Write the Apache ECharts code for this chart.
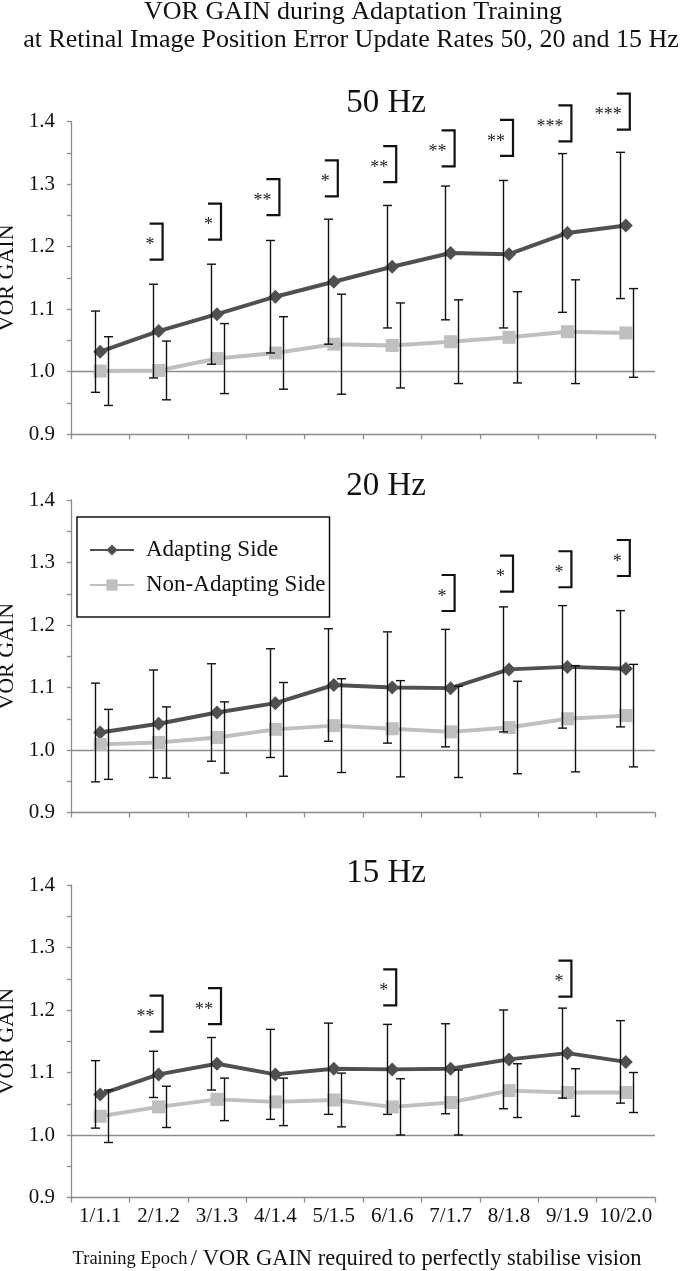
<!DOCTYPE html>
<html><head><meta charset="utf-8">
<script src="https://cdn.jsdelivr.net/npm/echarts@6/dist/echarts.min.js"></script>
<style>html,body{margin:0;padding:0;background:#fff}#c{width:685px;height:1271px}</style>
</head><body><div id="c"></div>
<script>
// ---------- data ----------
const categories = ['1/1.1','2/1.2','3/1.3','4/1.4','5/1.5','6/1.6','7/1.7','8/1.8','9/1.9','10/2.0'];
const seriesNames = ['Adapting Side','Non-Adapting Side'];
const panelTitles = ['50 Hz','20 Hz','15 Hz'];
const mainTitle = ['VOR GAIN during Adaptation Training','at Retinal Image Position Error Update Rates 50, 20 and 15 Hz'];
const yName = 'VOR GAIN';
const xNameSmall = 'Training Epoch';
const xNameLarge = '/ VOR GAIN required to perfectly stabilise vision';

// 50 Hz
const adapt50 = [1.032, 1.065, 1.092, 1.120, 1.144, 1.168, 1.190, 1.188, 1.222, 1.234];
const adapt50Err = [0.065, 0.075, 0.080, 0.090, 0.100, 0.098, 0.107, 0.118, 0.127, 0.117];
const nonAdapt50 = [1.001, 1.002, 1.021, 1.030, 1.044, 1.042, 1.048, 1.055, 1.064, 1.062];
const nonAdapt50Err = [0.055, 0.047, 0.056, 0.058, 0.080, 0.068, 0.067, 0.073, 0.083, 0.071];
const sig50 = ['', '*', '*', '**', '*', '**', '**', '**', '***', '***'];
const sigTop50 = [null, 1.237, 1.269, 1.308, 1.338, 1.361, 1.386, 1.403, 1.426, 1.445];

// 20 Hz
const adapt20 = [1.028, 1.042, 1.060, 1.075, 1.104, 1.100, 1.099, 1.129, 1.133, 1.130];
const adapt20Err = [0.079, 0.086, 0.078, 0.087, 0.090, 0.089, 0.094, 0.100, 0.098, 0.093];
const nonAdapt20 = [1.009, 1.012, 1.020, 1.033, 1.039, 1.034, 1.029, 1.036, 1.050, 1.055];
const nonAdapt20Err = [0.056, 0.057, 0.057, 0.075, 0.075, 0.077, 0.073, 0.074, 0.085, 0.082];
const sig20 = ['', '', '', '', '', '', '*', '*', '*', '*'];
const sigTop20 = [null, null, null, null, null, null, 1.280, 1.311, 1.318, 1.336];

// 15 Hz
const adapt15 = [1.065, 1.097, 1.114, 1.097, 1.106, 1.105, 1.106, 1.121, 1.131, 1.117];
const adapt15Err = [0.054, 0.037, 0.042, 0.072, 0.073, 0.072, 0.072, 0.079, 0.072, 0.066];
const nonAdapt15 = [1.030, 1.045, 1.057, 1.053, 1.056, 1.045, 1.052, 1.071, 1.068, 1.068];
const nonAdapt15Err = [0.042, 0.033, 0.034, 0.038, 0.043, 0.045, 0.052, 0.043, 0.038, 0.032];
const sig15 = ['', '**', '**', '', '', '*', '', '', '*', ''];
const sigTop15 = [null, 1.223, 1.235, null, null, 1.265, null, null, 1.279, null];

const yMin = 0.9, yMax = 1.4, yStep = 0.1, refLine = 1.0;

// ---------- styling / layout ----------
const FONT = 'Liberation Serif';
const DARK = '#505050', LIGHT = '#bfbfbf', AXIS = '#8c8c8c';
const gridTops = [121.7, 500, 885];
const gridH = 312.5;

const panels = [
  {a: adapt50, ae: adapt50Err, n: nonAdapt50, ne: nonAdapt50Err, s: sig50, st: sigTop50},
  {a: adapt20, ae: adapt20Err, n: nonAdapt20, ne: nonAdapt20Err, s: sig20, st: sigTop20},
  {a: adapt15, ae: adapt15Err, n: nonAdapt15, ne: nonAdapt15Err, s: sig15, st: sigTop15}
];

function errRender(offset) {
  return function (params, api) {
    const c = api.value(0);
    const pLo = api.coord([c, api.value(1)]);
    const pHi = api.coord([c, api.value(2)]);
    const x = Math.round(pLo[0] + offset) + 0.5;
    const cap = 4.5;
    const st = {stroke: '#111', lineWidth: 1.4};
    return {type: 'group', children: [
      {type: 'line', shape: {x1: x, y1: pHi[1], x2: x, y2: pLo[1]}, style: st},
      {type: 'line', shape: {x1: x - cap, y1: pHi[1], x2: x + cap, y2: pHi[1]}, style: st},
      {type: 'line', shape: {x1: x - cap, y1: pLo[1], x2: x + cap, y2: pLo[1]}, style: st}
    ]};
  };
}

function sigRender(labels) {
  return function (params, api) {
    const c = api.value(0);
    const p = api.coord([c, api.value(1)]);
    const x = p[0] + 4, top = p[1], h = 36, arm = 13;
    return {type: 'group', children: [
      {type: 'polyline', shape: {points: [[x - arm, top], [x, top], [x, top + h], [x - arm, top + h]]},
        style: {stroke: '#111', lineWidth: 2.2, fill: null}},
      {type: 'text', x: x - 8, y: top + h / 2 + 4,
        style: {text: labels[c], align: 'right', verticalAlign: 'middle', font: '18px "' + FONT + '"', fill: '#222'}}
    ]};
  };
}

const grids = [], xAxes = [], yAxes = [], series = [];
panels.forEach((p, i) => {
  grids.push({left: 71, right: 30, top: gridTops[i], height: gridH, containLabel: false, outerBoundsMode: 'none'});
  xAxes.push({
    type: 'category', gridIndex: i, data: categories, boundaryGap: true,
    axisLine: {lineStyle: {color: AXIS, width: 1.3}},
    axisTick: {show: true, interval: 0, length: 5, lineStyle: {color: AXIS, width: 1.3}},
    axisLabel: {show: i === 2, interval: 0, margin: 8, color: '#111', fontFamily: FONT, fontSize: 21},
    splitLine: {show: false}
  });
  yAxes.push({
    type: 'value', gridIndex: i, min: yMin, max: yMax, interval: yStep,
    axisLine: {show: true, lineStyle: {color: AXIS, width: 1.3}},
    axisTick: {show: true, length: 4, lineStyle: {color: AXIS, width: 1.3}},
    minorTick: {show: true, splitNumber: 2, length: 4, lineStyle: {color: AXIS, width: 1.3}},
    axisLabel: {margin: 16, color: '#111', fontFamily: FONT, fontSize: 21, formatter: v => v.toFixed(1)},
    splitLine: {show: false},
    name: yName, nameLocation: 'middle', nameRotate: 90, nameGap: 49,
    nameTextStyle: {color: '#111', fontFamily: FONT, fontSize: 22}
  });
  series.push({
    type: 'line', name: seriesNames[0], xAxisIndex: i, yAxisIndex: i, data: p.a,
    symbol: 'diamond', symbolSize: 14, color: DARK, lineStyle: {width: 4, color: DARK},
    itemStyle: {color: DARK}, z: 3,
    markLine: {silent: true, symbol: 'none', label: {show: false},
      lineStyle: {color: AXIS, width: 1.3, type: 'solid'}, data: [{yAxis: refLine}], z: 1}
  });
  series.push({
    type: 'line', name: seriesNames[1], xAxisIndex: i, yAxisIndex: i, data: p.n,
    symbol: 'rect', symbolSize: 13, color: LIGHT, lineStyle: {width: 4, color: LIGHT},
    itemStyle: {color: LIGHT}, z: 3
  });
  series.push({
    type: 'custom', xAxisIndex: i, yAxisIndex: i, z: 5, silent: true,
    renderItem: errRender(-5.5),
    encode: {x: 0, y: [1, 2]},
    data: p.a.map((v, k) => [k, v - p.ae[k], v + p.ae[k]])
  });
  series.push({
    type: 'custom', xAxisIndex: i, yAxisIndex: i, z: 5, silent: true,
    renderItem: errRender(7.5),
    encode: {x: 0, y: [1, 2]},
    data: p.n.map((v, k) => [k, v - p.ne[k], v + p.ne[k]])
  });
  series.push({
    type: 'custom', xAxisIndex: i, yAxisIndex: i, z: 6, silent: true, clip: false,
    renderItem: sigRender(p.s),
    encode: {x: 0, y: 1},
    data: p.st.map((v, k) => v == null ? null : [k, v]).filter(d => d)
  });
});

const errStyle = {stroke: '#111', lineWidth: 1.4};
const graphic = [
  {type: 'text', x: 353, y: 12, style: {text: mainTitle[0], align: 'center', verticalAlign: 'middle', font: '26px "' + FONT + '"', fill: '#111'}},
  {type: 'text', x: 351, y: 40, style: {text: mainTitle[1], align: 'center', verticalAlign: 'middle', font: '26px "' + FONT + '"', fill: '#111'}},
  {type: 'text', x: 386, y: 103, style: {text: panelTitles[0], align: 'center', verticalAlign: 'middle', font: '33px "' + FONT + '"', fill: '#111'}},
  {type: 'text', x: 386, y: 486, style: {text: panelTitles[1], align: 'center', verticalAlign: 'middle', font: '33px "' + FONT + '"', fill: '#111'}},
  {type: 'text', x: 386, y: 873, style: {text: panelTitles[2], align: 'center', verticalAlign: 'middle', font: '33px "' + FONT + '"', fill: '#111'}},
  {type: 'text', x: 357, y: 1259, style: {
    text: '{s|' + xNameSmall + '} {l|' + xNameLarge + '}', align: 'center', verticalAlign: 'middle',
    rich: {s: {fontFamily: FONT, fontSize: 18.5, fill: '#111', color: '#111'}, l: {fontFamily: FONT, fontSize: 22.5, fill: '#111', color: '#111'}}
  }},
  // legend error-bar glyphs
  {type: 'group', z: 200, children: [
    {type: 'line', shape: {x1: 105.5, y1: 528, x2: 105.5, y2: 572}, style: errStyle},
    {type: 'line', shape: {x1: 101, y1: 528, x2: 110, y2: 528}, style: errStyle},
    {type: 'line', shape: {x1: 101, y1: 572, x2: 110, y2: 572}, style: errStyle},
    {type: 'line', shape: {x1: 119.5, y1: 563, x2: 119.5, y2: 608}, style: errStyle},
    {type: 'line', shape: {x1: 115, y1: 563, x2: 124, y2: 563}, style: errStyle},
    {type: 'line', shape: {x1: 115, y1: 608, x2: 124, y2: 608}, style: errStyle}
  ]}
];

const chart = echarts.init(document.getElementById('c'), null, {renderer: 'canvas'});
chart.setOption({
  animation: false,
  backgroundColor: '#fff',
  grid: grids, xAxis: xAxes, yAxis: yAxes, series: series,
  legend: {
    data: seriesNames, orient: 'vertical', left: 77, top: 517,
    padding: [20, 4, 19, 12], itemGap: 9, itemWidth: 44, itemHeight: 14,
    borderColor: '#111', borderWidth: 1.5, backgroundColor: '#fff',
    selectedMode: false,
    textStyle: {fontFamily: FONT, fontSize: 23, color: '#111', lineHeight: 26, padding: [0, 0, 0, 7]}
  },
  graphic: graphic
});
</script>
</body></html>
